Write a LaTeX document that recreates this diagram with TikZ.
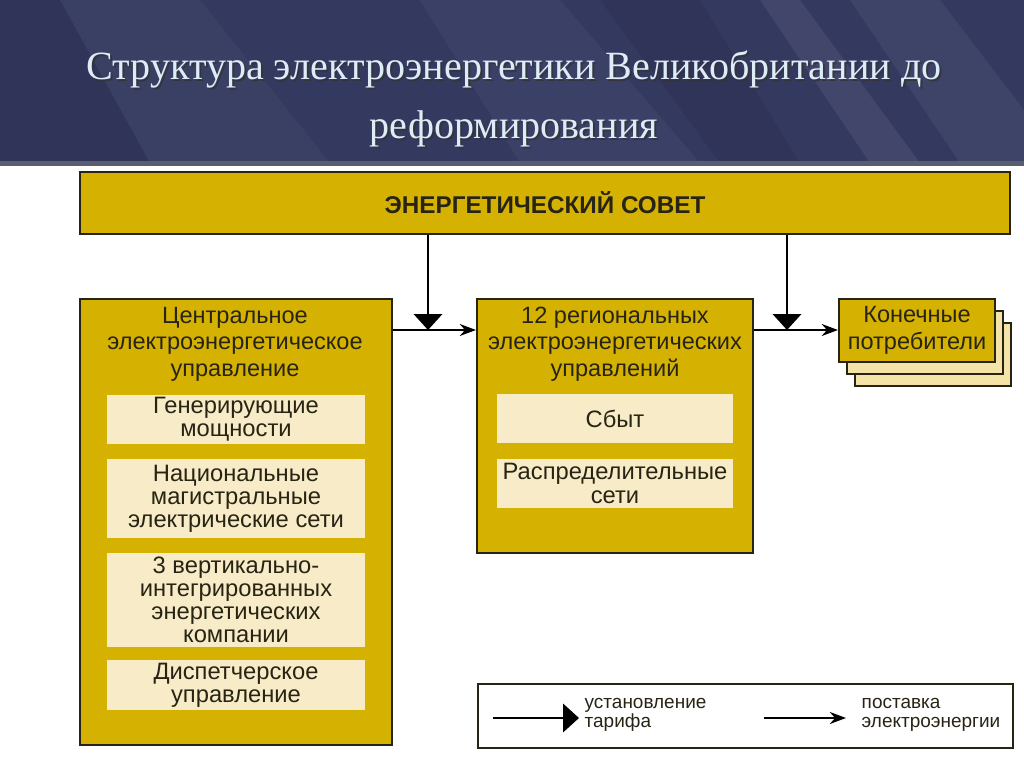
\documentclass[tikz,border=0pt]{standalone}
\usepackage{fontspec}
\setmainfont{Liberation Serif}
\setsansfont{Liberation Sans}
\usepackage{xcolor}
\usetikzlibrary{arrows.meta}

\definecolor{navy}{RGB}{52,57,96}
\definecolor{gold}{RGB}{213,178,2}
\definecolor{cream}{RGB}{248,236,200}
\definecolor{paper}{RGB}{244,228,168}
\definecolor{ink}{RGB}{40,36,20}
\definecolor{titlecol}{RGB}{222,236,250}

\tikzset{
    goldbox/.style={draw=ink, line width=0.6pt, fill=gold, inner sep=0pt},
    creambox/.style={fill=cream, text=ink, align=center, inner sep=0pt, font=\sffamily\fontsize{6.75}{6.6}\selectfont},
    heading/.style={text=ink, align=center, font=\sffamily\fontsize{6.7}{7.5}\selectfont},
    legendtxt/.style={anchor=west, align=left, inner sep=0pt, text=ink, font=\sffamily\fontsize{5.4}{5.4}\selectfont},
    tariff/.style={line width=0.7pt, -{Triangle[width=8pt,length=4.5pt]}},
    supply/.style={line width=0.7pt, -{Stealth[width=3.4pt,length=4.6pt]}},
}

\begin{document}
\begin{tikzpicture}[x=0.1mm, y=-0.1mm]
    \useasboundingbox (0,0) rectangle (1024,767);
    % Header band
    \fill[navy] (0,0) rectangle (1024,163);
    \begin{scope}
        \clip (0,0) rectangle (1024,163);
        \fill[white, opacity=0.03] (60,0) -- (200,0) -- (330,163) -- (150,163) -- cycle;
        \fill[black, opacity=0.08] (0,0) -- (60,0) -- (150,163) -- (0,163) -- cycle;
        \fill[white, opacity=0.04] (420,0) -- (560,0) -- (700,163) -- (520,163) -- cycle;
        \fill[white, opacity=0.07] (760,0) -- (800,0) -- (920,163) -- (870,163) -- cycle;
        \fill[white, opacity=0.05] (850,0) -- (940,0) -- (1024,110) -- (1024,163) -- (960,163) -- cycle;
        \fill[black, opacity=0.07] (600,0) -- (700,0) -- (800,163) -- (720,163) -- cycle;
    \end{scope}
    \fill[gray!50!navy] (0,161) rectangle (1024,166);

    % Title
    \node[text=black!80, opacity=0.8, align=center, font=\fontsize{11.4}{17}\selectfont]
        (titleshadow) at (516,101) {Структура электроэнергетики Великобритании до\\реформирования};
    \node[text=titlecol, align=center, font=\fontsize{11.4}{17}\selectfont]
        (title) at (514,99) {Структура электроэнергетики Великобритании до\\реформирования};

    % Energy council
    \node[goldbox, minimum width=93mm, minimum height=6.2mm, text=ink,
          font=\sffamily\bfseries\fontsize{6.9}{8}\selectfont] (council) at (545,203) {ЭНЕРГЕТИЧЕСКИЙ СОВЕТ};

    % Central board
    \node[goldbox, minimum width=31.2mm, minimum height=44.6mm] (central) at (236,522) {};
    \node[heading] (centraltxt) at (235,344) {Центральное\\электроэнергетическое\\управление};
    \node[creambox, minimum width=25.8mm, minimum height=4.9mm] (gen) at (236,419.5) {Генерирующие\\мощности};
    \node[creambox, minimum width=25.8mm, minimum height=7.9mm] (grid) at (236,498.5) {Национальные\\магистральные\\электрические сети};
    \node[creambox, minimum width=25.8mm, minimum height=9.4mm] (vic) at (236,600) {3 вертикально-\\интегрированных\\энергетических\\компании};
    \node[creambox, minimum width=25.8mm, minimum height=5mm] (disp) at (236,685) {Диспетчерское\\управление};

    % Regional boards
    \node[goldbox, minimum width=27.6mm, minimum height=25.4mm] (regional) at (615,426) {};
    \node[heading] (regionaltxt) at (615,344) {12 региональных\\электроэнергетических\\управлений};
    \node[creambox, minimum width=23.6mm, minimum height=4.9mm] (sales) at (615,418.5) {Сбыт};
    \node[creambox, minimum width=23.6mm, minimum height=4.9mm] (distr) at (615,483.5) {Распределительные\\сети};

    % End consumers (stack)
    \foreach \d in {2,1}
        \draw[draw=ink, line width=0.6pt, fill=paper] (839+8*\d,299+12*\d) rectangle (995+8*\d,362+12*\d);
    \node[goldbox, minimum width=15.6mm, minimum height=6.3mm, heading] (consumers) at (917,330.5) {Конечные\\потребители};

    % Tariffs and supply
    \coordinate (j1) at (428,330);
    \coordinate (j2) at (787,330);
    \draw[supply] (central.east |- j1) -- (regional.west |- j1);
    \draw[supply] (regional.east |- j2) -- (consumers.west |- j2);
    \draw[tariff] (council.south -| j1) -- (j1);
    \draw[tariff] (council.south -| j2) -- (j2);

    % Legend
    \node[draw=ink, line width=0.6pt, minimum width=53.5mm, minimum height=6.4mm] (legend) at (745.5,716) {};
    \coordinate (ta) at (493,718);
    \coordinate (tb) at (579,718);
    \coordinate (sa) at (764,718);
    \coordinate (sb) at (846,718);
    \draw[tariff] (ta) -- (tb);
    \draw[supply] (sa) -- (sb);
    \node[legendtxt] (tarifftxt) at (584,715) {установление\\тарифа};
    \node[legendtxt] (supplytxt) at (861,715) {поставка\\электроэнергии};
\end{tikzpicture}
\end{document}
